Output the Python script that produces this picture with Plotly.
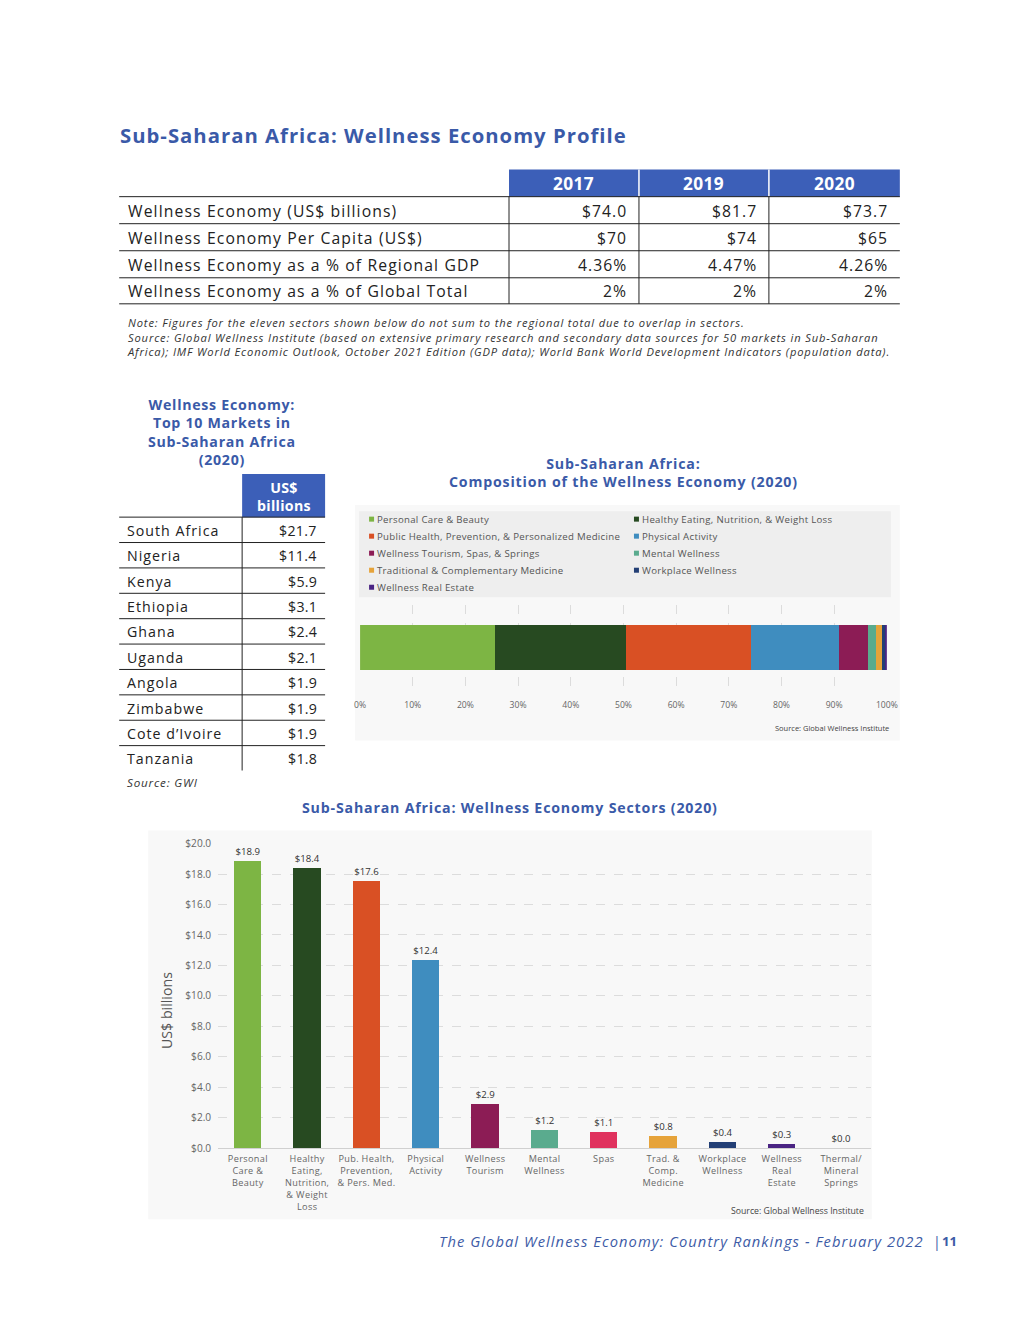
import plotly.graph_objects as go

# Figure size and page mapping (the rendered page is shown slightly scaled/offset,
# so reference pixel positions are mapped onto figure pixels)
W, H = 1004, 1304
SX, DX = 0.9835, 14.0
SY, DY = 0.9878, 15.8
FSC = 1.0 / 0.9856   # font compensation for the page scaling
def X(px): return (px / SX - DX) / W
def Y(py): return 1 - (py / SY - DY) / H
def F(sz): return round(sz * FSC, 2)

FONT = "Open Sans"
BLUE_T = "#3a5aa8"
BLUE_H = "#3c5fb8"
GREY = "#666666"
DARK = "#333333"

# ---------------- data ----------------
profile_years = ["2017", "2019", "2020"]
profile_labels = ["Wellness Economy (US$ billions)",
                  "Wellness Economy Per Capita (US$)",
                  "Wellness Economy as a % of Regional GDP",
                  "Wellness Economy as a % of Global Total"]
econ_billions = [74.0, 81.7, 73.7]
econ_per_capita = [70, 74, 65]
econ_pct_gdp = [4.36, 4.47, 4.26]
econ_pct_global = [2, 2, 2]

markets = ["South Africa", "Nigeria", "Kenya", "Ethiopia", "Ghana", "Uganda",
           "Angola", "Zimbabwe", "Cote d\u2019Ivoire", "Tanzania"]
market_values = [21.7, 11.4, 5.9, 3.1, 2.4, 2.1, 1.9, 1.9, 1.9, 1.8]

comp_names = ["Personal Care & Beauty", "Healthy Eating, Nutrition, & Weight Loss",
              "Public Health, Prevention, & Personalized Medicine", "Physical Activity",
              "Wellness Tourism, Spas, & Springs", "Mental Wellness",
              "Traditional & Complementary Medicine", "Workplace Wellness",
              "Wellness Real Estate"]
comp_values = [18.9, 18.4, 17.6, 12.4, 4.0, 1.2, 0.8, 0.4, 0.3]
comp_colors = ["#7db544", "#274a21", "#d95024", "#3f8dbf", "#8c1c55",
               "#5aab8e", "#e6a33a", "#233f75", "#4a2483"]

sector_labels = ["Personal<br>Care &<br>Beauty",
                 "Healthy<br>Eating,<br>Nutrition,<br>& Weight<br>Loss",
                 "Pub. Health,<br>Prevention,<br>& Pers. Med.",
                 "Physical<br>Activity", "Wellness<br>Tourism", "Mental<br>Wellness",
                 "Spas", "Trad. &<br>Comp.<br>Medicine", "Workplace<br>Wellness",
                 "Wellness<br>Real<br>Estate", "Thermal/<br>Mineral<br>Springs"]
sector_values = [18.9, 18.4, 17.6, 12.4, 2.9, 1.2, 1.1, 0.8, 0.4, 0.3, 0.0]
sector_colors = ["#7db544", "#274a21", "#d95024", "#3f8dbf", "#8c1c55", "#5aab8e",
                 "#e0325e", "#e6a33a", "#233f75", "#4a2483", "#5aab8e"]

fig = go.Figure()
shapes = []
ann = []

def sp(s, ls, bold=False, italic=False):
    if bold:
        s = "<b>" + s + "</b>"
    if italic:
        s = "<i>" + s + "</i>"
    if ls:
        s = '<span style="letter-spacing:%.2fpx">%s</span>' % (ls * FSC, s)
    return s

def text(x, y, lines, size, color=DARK, anchor="left", bold=False, italic=False,
         angle=0, ls=0.0):
    if isinstance(lines, str):
        lines = [lines]
    s = "<br>".join(sp(l, ls, bold, italic) for l in lines)
    ann.append(dict(x=X(x), y=Y(y), xref="paper", yref="paper", text=s, showarrow=False,
                    xanchor=anchor, yanchor="middle", textangle=angle,
                    align=anchor if anchor != "center" else "center",
                    font=dict(family=FONT, size=F(size), color=color)))

def line(x0, y0, x1, y1, color="#222", w=1):
    shapes.append(dict(type="line", xref="paper", yref="paper", x0=X(x0), y0=Y(y0),
                       x1=X(x1), y1=Y(y1), line=dict(color=color, width=w)))

def rect(x0, y0, x1, y1, fill, layer="below"):
    shapes.append(dict(type="rect", xref="paper", yref="paper", x0=X(x0), y0=Y(y0),
                       x1=X(x1), y1=Y(y1), fillcolor=fill, line=dict(width=0), layer=layer))

# ---------------- title & profile table ----------------
text(118, 135, "Sub-Saharan Africa: Wellness Economy Profile", 20, BLUE_T, bold=True, ls=1.0)

col_edges = [509, 639, 769, 900]
rect(509, 170, 900, 197, BLUE_H, layer="above")
for j, yr in enumerate(profile_years):
    text((col_edges[j] + col_edges[j + 1]) / 2, 184, yr, 17, "white", anchor="center", bold=True, ls=0.4)
for xv in col_edges[1:3]:
    line(xv, 170, xv, 197, "white", 1.5)

profile_vals = [["${:.1f}".format(v) for v in econ_billions],
                ["${:d}".format(v) for v in econ_per_capita],
                ["{:.2f}%".format(v) for v in econ_pct_gdp],
                ["{:d}%".format(v) for v in econ_pct_global]]
row_lines = [197, 224, 251, 278, 304]
for yv in row_lines:
    line(119, yv, 900, yv, "#222", 1)
for xv in col_edges[:3]:
    line(xv, 197, xv, 304, "#222", 1)
for i, lab in enumerate(profile_labels):
    yc = (row_lines[i] + row_lines[i + 1]) / 2 + 0.5
    text(126, yc, lab, 15.5, "#222", ls=1.1)
    for j in range(3):
        text(col_edges[j + 1] - 10, yc, profile_vals[i][j], 15.5, "#222", anchor="right", ls=1.0)

note_lines = [
    "Note: Figures for the eleven sectors shown below do not sum to the regional total due to overlap in sectors.",
    "Source: Global Wellness Institute (based on extensive primary research and secondary data sources for 50 markets in Sub-Saharan",
    "Africa); IMF World Economic Outlook, October 2021 Edition (GDP data); World Bank World Development Indicators (population data).",
]
text(125, 337, note_lines, 11, "#333", italic=True, ls=0.85)

# ---------------- left table: top 10 markets ----------------
text(222, 431.5, ["Wellness Economy:", "Top 10 Markets in", "Sub-Saharan Africa", "(2020)"],
     14, BLUE_T, anchor="center", bold=True, ls=0.7)
rect(242, 474, 325, 517, BLUE_H, layer="above")
text(283.5, 496, ["US$", "billions"], 14, "white", anchor="center", bold=True, ls=0.3)

mk_top = 517
mk_h = 25.35
line(119, mk_top, 325, mk_top, "#222", 1)
line(242, mk_top, 242, 770, "#222", 1)
for i, (m, v) in enumerate(zip(markets, market_values)):
    yc = mk_top + mk_h * (i + 0.5) + 0.5
    text(125, yc, m, 14, "#222", ls=1.0)
    text(319, yc, "${:.1f}".format(v), 14, "#222", anchor="right", ls=0.3)
    if i < len(markets) - 1:
        line(119, mk_top + mk_h * (i + 1), 325, mk_top + mk_h * (i + 1), "#222", 1)
text(125, 782, "Source: GWI", 11.5, "#333", italic=True, ls=0.8)

# ---------------- composition chart ----------------
text(624, 472, ["Sub-Saharan Africa:", "Composition of the Wellness Economy (2020)"],
     14, BLUE_T, anchor="center", bold=True, ls=0.8)
rect(355, 505, 900, 740, "#f8f8f8")
rect(359, 511, 891, 597, "#eeeeee")
for i, (nm, c) in enumerate(zip(comp_names, comp_colors)):
    r, col = divmod(i, 2)
    xs = [369, 634][col]
    yc = 519 + 17 * r
    shapes.append(dict(type="rect", xref="paper", yref="paper", x0=X(xs), x1=X(xs + 5),
                       y0=Y(yc + 2.5), y1=Y(yc - 2.5), fillcolor=c, line=dict(width=0)))
    text(xs + 6, yc, nm, 9.5, "#555", ls=0.3)

comp_total = sum(comp_values)
for nm, v, c in zip(comp_names, comp_values, comp_colors):
    fig.add_trace(go.Bar(x=[v / comp_total * 100], y=["SSA"], orientation="h", name=nm,
                         marker=dict(color=c, line=dict(width=0)), width=0.52,
                         xaxis="x", yaxis="y", showlegend=False, hoverinfo="skip"))
text(891, 728, "Source: Global Wellness Institute", 7.4, "#444", anchor="right")

# ---------------- sectors chart ----------------
text(510, 807, "Sub-Saharan Africa: Wellness Economy Sectors (2020)", 14, BLUE_T,
     anchor="center", bold=True, ls=0.8)
rect(148, 830, 872, 1218, "#f8f8f8")
fig.add_trace(go.Bar(x=sector_labels, y=sector_values,
                     marker=dict(color=sector_colors, line=dict(width=0)),
                     width=0.46, xaxis="x2", yaxis="y2", showlegend=False,
                     text=["${:.1f}".format(v) for v in sector_values], textposition="outside",
                     textfont=dict(family=FONT, size=F(9.5), color=DARK), cliponaxis=False,
                     hoverinfo="skip"))
sector_ticktext = ["<br>".join(sp(part, 0.35) for part in lab.split("<br>"))
                   for lab in sector_labels]
text(167, 1010, "US$ billions", 14, "#555", anchor="center", angle=-90)
text(866, 1210, "Source: Global Wellness Institute", 8.6, "#444", anchor="right")

# ---------------- footer ----------------
text(926, 1240, "The Global Wellness Economy: Country Rankings - February 2022", 14.5,
     "#3d5ba6", anchor="right", italic=True, ls=1.05)
text(937, 1240, "|", 14, "#3d5ba6", anchor="center")
text(950, 1240, "11", 13, "#3d5ba6", anchor="center", bold=True)

fig.update_layout(
    width=W, height=H, margin=dict(l=0, r=0, t=0, b=0),
    paper_bgcolor="white", plot_bgcolor="rgba(0,0,0,0)",
    barmode="stack", bargap=0, showlegend=False,
    font=dict(family=FONT, color=GREY),
    xaxis=dict(domain=[X(360), X(887)], range=[0, 100], dtick=10, ticksuffix="%",
               showgrid=True, gridcolor="#dcdcdc", griddash="dash", zeroline=False,
               showline=False, ticks="", tickfont=dict(size=F(8.5), color=GREY),
               ticklabelstandoff=8, fixedrange=True, anchor="y"),
    yaxis=dict(domain=[Y(690), Y(605)], range=[-0.5, 0.5], showticklabels=False,
               showgrid=False, zeroline=False, type="category", fixedrange=True, anchor="x"),
    xaxis2=dict(domain=[X(218), X(871)], anchor="y2", showgrid=False, showline=True,
                linecolor="#d0d0d0", linewidth=1, ticks="", tickfont=dict(size=F(9.0), color=GREY),
                tickmode="array", tickvals=sector_labels, ticktext=sector_ticktext,
                tickangle=0, fixedrange=True, ticklabelstandoff=2),
    yaxis2=dict(domain=[Y(1147), Y(843)], anchor="x2", range=[0, 20], dtick=2, tickprefix="$",
                tickformat=".1f", showgrid=True, gridcolor="#dcdcdc", griddash="dash",
                zeroline=False, ticks="", tickfont=dict(size=F(10), color=GREY),
                ticklabelstandoff=6, fixedrange=True),
    shapes=shapes, annotations=ann,
)

fig.write_html("out.html", config={"displayModeBar": False})
